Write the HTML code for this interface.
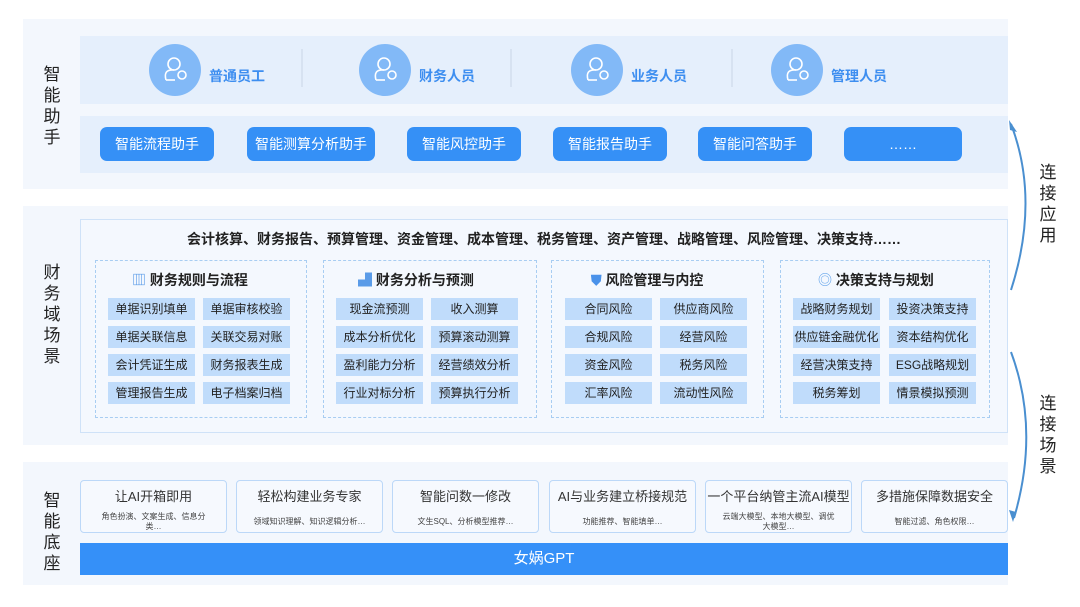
<!DOCTYPE html>
<html><head><meta charset="utf-8"><style>
*{margin:0;padding:0;box-sizing:border-box}
body{width:1080px;height:607px;background:#fff;position:relative;overflow:hidden;font-family:"Liberation Sans","Noto Sans CJK SC",sans-serif}
.a{position:absolute}
.sec{background:#f3f7fd}
.vl{position:absolute;font-size:17px;color:#222;width:20px;line-height:21px;text-align:center}
.circ{position:absolute;width:52px;height:52px;border-radius:50%;background:#82b9f7}
.ul{position:absolute;font-size:14px;font-weight:bold;color:#3d8ef0}
.btn{position:absolute;top:127px;height:34px;background:#3590f6;border-radius:7px;color:#fff;font-size:14px;text-align:center;line-height:34px}
.card{position:absolute;top:260px;height:158px;border:1px dashed #a8cdf2}
.ct{position:absolute;top:270px;font-size:14px;font-weight:bold;color:#222;white-space:nowrap}
.it{position:absolute;width:87px;height:22px;background:#c0dcfb;font-size:12px;color:#222;text-align:center;line-height:22px}
.bc{position:absolute;top:480px;height:53px;width:147px;border:1px solid #bcd8f8;border-radius:4px;background:#f6f9fe;text-align:center}
.bc b{display:block;font-weight:normal;font-size:13px;color:#333;margin-top:5px}
.bc i{display:block;font-style:normal;font-size:8px;color:#444;margin-top:7px;line-height:10px;padding:0 20px}
</style></head><body>
<div class="a sec" style="left:23px;top:19px;width:985px;height:170px"></div>
<div class="a" style="left:80px;top:36px;width:928px;height:68px;background:#e5effc"></div>
<div class="a" style="left:80px;top:116px;width:928px;height:57px;background:#e5effc"></div>
<div class="vl" style="left:42px;top:64px">智<br>能<br>助<br>手</div>

<div class="circ" style="left:149px;top:44px"></div>
<div class="circ" style="left:359px;top:44px"></div>
<div class="circ" style="left:571px;top:44px"></div>
<div class="circ" style="left:771px;top:44px"></div>
<svg class="a" style="left:0;top:0" width="1080" height="607">
<g fill="none" stroke="#fff" stroke-width="1.6">
<g transform="translate(175,70)"><circle cx="-1" cy="-6" r="6"/><path d="M-9 10 Q-12 -1 -1 0"/><path d="M-9 10 H0"/><circle cx="7" cy="5" r="4"/></g>
<g transform="translate(385,70)"><circle cx="-1" cy="-6" r="6"/><path d="M-9 10 Q-12 -1 -1 0"/><path d="M-9 10 H0"/><circle cx="7" cy="5" r="4"/></g>
<g transform="translate(597,70)"><circle cx="-1" cy="-6" r="6"/><path d="M-9 10 Q-12 -1 -1 0"/><path d="M-9 10 H0"/><circle cx="7" cy="5" r="4"/></g>
<g transform="translate(797,70)"><circle cx="-1" cy="-6" r="6"/><path d="M-9 10 Q-12 -1 -1 0"/><path d="M-9 10 H0"/><circle cx="7" cy="5" r="4"/></g>
</g>
<g stroke="#c9d6e6" stroke-width="1"><line x1="302" y1="49" x2="302" y2="87"/><line x1="511" y1="49" x2="511" y2="87"/><line x1="732" y1="49" x2="732" y2="87"/></g>
</svg>
<div class="ul" style="left:209px;top:66px">普通员工</div>
<div class="ul" style="left:419px;top:66px">财务人员</div>
<div class="ul" style="left:631px;top:66px">业务人员</div>
<div class="ul" style="left:831px;top:66px">管理人员</div>

<div class="btn" style="left:100px;width:114px">智能流程助手</div>
<div class="btn" style="left:247px;width:128px">智能测算分析助手</div>
<div class="btn" style="left:407px;width:114px">智能风控助手</div>
<div class="btn" style="left:553px;width:114px">智能报告助手</div>
<div class="btn" style="left:698px;width:114px">智能问答助手</div>
<div class="btn" style="left:844px;width:118px">……</div>

<div class="a sec" style="left:23px;top:206px;width:985px;height:239px"></div>
<div class="a" style="left:80px;top:219px;width:928px;height:214px;border:1px solid #cfe2f8;background:#f4f8fe"></div>
<div class="vl" style="left:42px;top:262px">财<br>务<br>域<br>场<br>景</div>
<div class="a" style="left:80px;top:229px;width:928px;text-align:center;font-size:14px;font-weight:bold;color:#222">会计核算、财务报告、预算管理、资金管理、成本管理、税务管理、资产管理、战略管理、风险管理、决策支持……</div>

<div class="card" style="left:95px;width:212px"></div>
<div class="card" style="left:323px;width:214px"></div>
<div class="card" style="left:551px;width:213px"></div>
<div class="card" style="left:780px;width:210px"></div>
<div class="ct" style="left:132px"><span style="color:#5a9be8">▥</span> 财务规则与流程</div>
<div class="ct" style="left:358px"><span style="color:#5a9be8">▟</span> 财务分析与预测</div>
<div class="ct" style="left:591px"><span style="color:#4a92ea">⛊</span> 风险管理与内控</div>
<div class="ct" style="left:818px"><span style="color:#6aa8ec">◎</span> 决策支持与规划</div>

<div class="it" style="left:108px;top:298px">单据识别填单</div><div class="it" style="left:203px;top:298px">单据审核校验</div>
<div class="it" style="left:108px;top:326px">单据关联信息</div><div class="it" style="left:203px;top:326px">关联交易对账</div>
<div class="it" style="left:108px;top:354px">会计凭证生成</div><div class="it" style="left:203px;top:354px">财务报表生成</div>
<div class="it" style="left:108px;top:382px">管理报告生成</div><div class="it" style="left:203px;top:382px">电子档案归档</div>

<div class="it" style="left:336px;top:298px">现金流预测</div><div class="it" style="left:431px;top:298px">收入测算</div>
<div class="it" style="left:336px;top:326px">成本分析优化</div><div class="it" style="left:431px;top:326px">预算滚动测算</div>
<div class="it" style="left:336px;top:354px">盈利能力分析</div><div class="it" style="left:431px;top:354px">经营绩效分析</div>
<div class="it" style="left:336px;top:382px">行业对标分析</div><div class="it" style="left:431px;top:382px">预算执行分析</div>

<div class="it" style="left:565px;top:298px">合同风险</div><div class="it" style="left:660px;top:298px">供应商风险</div>
<div class="it" style="left:565px;top:326px">合规风险</div><div class="it" style="left:660px;top:326px">经营风险</div>
<div class="it" style="left:565px;top:354px">资金风险</div><div class="it" style="left:660px;top:354px">税务风险</div>
<div class="it" style="left:565px;top:382px">汇率风险</div><div class="it" style="left:660px;top:382px">流动性风险</div>

<div class="it" style="left:793px;top:298px">战略财务规划</div><div class="it" style="left:889px;top:298px">投资决策支持</div>
<div class="it" style="left:793px;top:326px">供应链金融优化</div><div class="it" style="left:889px;top:326px">资本结构优化</div>
<div class="it" style="left:793px;top:354px">经营决策支持</div><div class="it" style="left:889px;top:354px">ESG战略规划</div>
<div class="it" style="left:793px;top:382px">税务筹划</div><div class="it" style="left:889px;top:382px">情景模拟预测</div>

<div class="a sec" style="left:23px;top:462px;width:985px;height:123px"></div>
<div class="vl" style="left:42px;top:490px">智<br>能<br>底<br>座</div>
<div class="bc" style="left:80px"><b>让AI开箱即用</b><i>角色扮演、文案生成、信息分类…</i></div>
<div class="bc" style="left:236px"><b>轻松构建业务专家</b><i style="margin-top:12px;padding:0 5px">领域知识理解、知识逻辑分析…</i></div>
<div class="bc" style="left:392px"><b>智能问数一修改</b><i style="margin-top:12px;padding:0 5px">文生SQL、分析模型推荐…</i></div>
<div class="bc" style="left:549px"><b>AI与业务建立桥接规范</b><i style="margin-top:12px;padding:0 5px">功能推荐、智能填单…</i></div>
<div class="bc" style="left:705px"><b>一个平台纳管主流AI模型</b><i style="padding:0 15px">云端大模型、本地大模型、调优大模型…</i></div>
<div class="bc" style="left:861px"><b>多措施保障数据安全</b><i style="margin-top:12px;padding:0 5px">智能过滤、角色权限…</i></div>
<div class="a" style="left:80px;top:543px;width:928px;height:32px;background:#3590f8;color:#fff;font-size:15px;text-align:center;line-height:32px">女娲GPT</div>

<svg class="a" style="left:0;top:0" width="1080" height="607">
<g fill="none" stroke="#4a8fd0" stroke-width="2">
<path d="M1011 124 Q1040 200 1011 290"/>
<path d="M1011 352 Q1040 430 1014 518"/>
</g>
<path d="M1009 120 L1017 132 L1010 130 Z" fill="#4a8fd0"/>
<path d="M1013 522 L1009 510 L1016 512 Z" fill="#4a8fd0"/>
</svg>
<div class="vl" style="left:1038px;top:162px">连<br>接<br>应<br>用</div>
<div class="vl" style="left:1038px;top:393px">连<br>接<br>场<br>景</div>
</body></html>
